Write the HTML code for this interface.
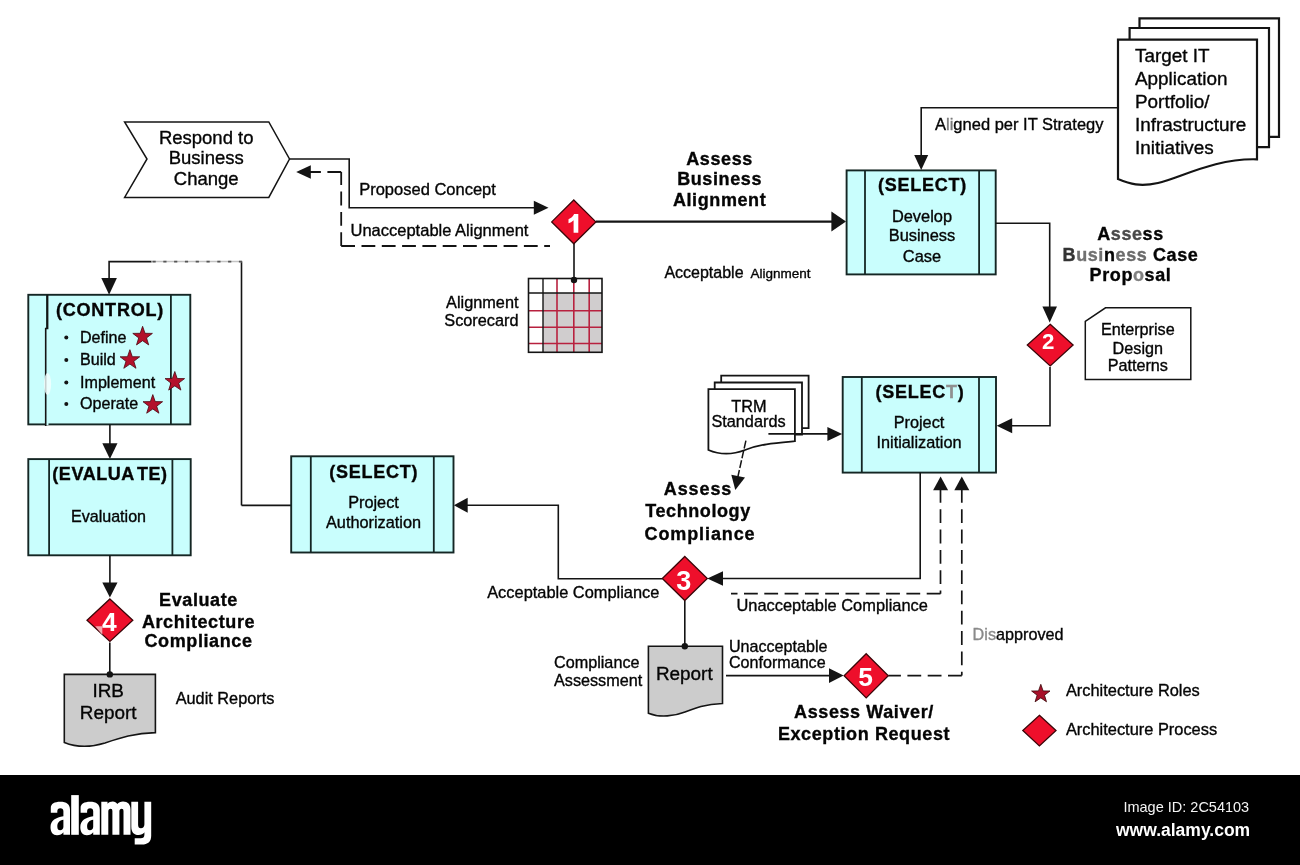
<!DOCTYPE html><html><head><meta charset="utf-8"><style>html,body{margin:0;padding:0;background:#fff;width:1300px;height:865px;overflow:hidden}svg{display:block;will-change:transform}text{font-family:"Liberation Sans",sans-serif}</style></head><body>
<svg width="1300" height="865" viewBox="0 0 1300 865">
<polygon points="124.6,122 268.8,122 289.5,159 268.8,197.4 124.6,197.4 147,159" fill="#fff" stroke="#141414" stroke-width="1.5"/>
<text x="206.2" y="144.2" font-size="18.5" text-anchor="middle" fill="#050505" stroke="#050505" stroke-width="0.35">Respond to</text>
<text x="206.2" y="163.8" font-size="18.5" text-anchor="middle" fill="#050505" stroke="#050505" stroke-width="0.35">Business</text>
<text x="206.2" y="185" font-size="18.5" text-anchor="middle" fill="#050505" stroke="#050505" stroke-width="0.35">Change</text>
<path d="M289.5,159 L349.2,159 L349.2,207.7 L536,207.7" fill="none" stroke="#141414" stroke-width="1.6"/>
<polygon points="548.5,207.7 533.8,200.7 533.8,214.7" fill="#141414"/>
<text x="359.2" y="194.6" font-size="16.5" text-anchor="start" fill="#050505" stroke="#050505" stroke-width="0.35">Proposed Concept</text>
<path d="M341.2,246 L550,246" fill="none" stroke="#141414" stroke-width="1.8" stroke-dasharray="13.8 6.5"/>
<path d="M341.2,246 L341.2,172" fill="none" stroke="#141414" stroke-width="1.8" stroke-dasharray="13.8 6.5"/>
<path d="M341.2,172 L309,172" fill="none" stroke="#141414" stroke-width="1.8" stroke-dasharray="13.8 6.5"/>
<polygon points="296.2,172.0 310.8,165.2 310.8,178.8" fill="#141414"/>
<text x="350.5" y="236.2" font-size="16.5" text-anchor="start" fill="#050505" stroke="#050505" stroke-width="0.35">Unacceptable Alignment</text>
<path d="M596,221.6 L833,221.6" fill="none" stroke="#141414" stroke-width="2.2"/>
<polygon points="846.0,221.6 831.4,211.6 831.4,231.6" fill="#141414"/>
<path d="M574,243 L574,280" fill="none" stroke="#141414" stroke-width="1.6"/>
<rect x="543" y="293" width="59" height="59.30000000000001" fill="#d0cdce"/>
<line x1="557" y1="278.5" x2="557" y2="352.3" stroke="#b8213f" stroke-width="1.6"/>
<line x1="573.8" y1="278.5" x2="573.8" y2="352.3" stroke="#b8213f" stroke-width="1.6"/>
<line x1="589.2" y1="278.5" x2="589.2" y2="352.3" stroke="#b8213f" stroke-width="1.6"/>
<line x1="528.5" y1="310.8" x2="602" y2="310.8" stroke="#b8213f" stroke-width="1.6"/>
<line x1="528.5" y1="327.2" x2="602" y2="327.2" stroke="#b8213f" stroke-width="1.6"/>
<line x1="528.5" y1="343.5" x2="602" y2="343.5" stroke="#b8213f" stroke-width="1.6"/>
<line x1="528.5" y1="293" x2="602" y2="293" stroke="#141414" stroke-width="1.4"/>
<line x1="543" y1="278.5" x2="543" y2="352.3" stroke="#141414" stroke-width="1.4"/>
<rect x="528.5" y="278.5" width="73.5" height="73.80000000000001" fill="none" stroke="#141414" stroke-width="1.6"/>
<circle cx="574" cy="280" r="3.2" fill="#141414"/>
<polygon points="573.8,200.0 595.9,221.9 573.8,243.8 551.6999999999999,221.9" fill="#ee0f2b" stroke="#3a0508" stroke-width="1.3"/>
<path d="M574.0999999999999,214.0 L578.3,214.0 L578.3,232.70000000000002 L573.5999999999999,232.70000000000002 L573.5999999999999,220.3 C572.0,221.9 570.3,222.8 568.5,223.20000000000002 L568.5,219.20000000000002 C571.0,218.3 573.0,216.5 574.0999999999999,214.0 Z" fill="#fff"/>
<text x="518.5" y="307.7" font-size="16.3" text-anchor="end" fill="#050505" stroke="#050505" stroke-width="0.35">Alignment</text>
<text x="518.5" y="325.7" font-size="16.3" text-anchor="end" fill="#050505" stroke="#050505" stroke-width="0.35">Scorecard</text>
<text x="719.6" y="164.6" font-size="18" text-anchor="middle" fill="#050505" stroke="#050505" stroke-width="0.35" font-weight="bold" letter-spacing="0.6">Assess</text>
<text x="719.6" y="185.2" font-size="18" text-anchor="middle" fill="#050505" stroke="#050505" stroke-width="0.35" font-weight="bold" letter-spacing="0.6">Business</text>
<text x="719.6" y="206" font-size="18" text-anchor="middle" fill="#050505" stroke="#050505" stroke-width="0.35" font-weight="bold" letter-spacing="0.6">Alignment</text>
<text x="664.4" y="277.6" font-size="16" text-anchor="start" fill="#050505" stroke="#050505" stroke-width="0.35">Acceptable</text>
<text x="750.4" y="277.6" font-size="13.5" text-anchor="start" fill="#050505" stroke="#050505" stroke-width="0.35">Alignment</text>
<rect x="846.6" y="170.4" width="149.10000000000002" height="103.99999999999997" fill="#c9fefd" stroke="#142624" stroke-width="1.9"/>
<line x1="865" y1="170.4" x2="865" y2="274.4" stroke="#142624" stroke-width="1.8"/>
<line x1="979.1" y1="170.4" x2="979.1" y2="274.4" stroke="#142624" stroke-width="1.8"/>
<text x="922.5" y="191.2" font-size="18" text-anchor="middle" fill="#050505" stroke="#050505" stroke-width="0.35" font-weight="bold" letter-spacing="0.75">(SELECT)</text>
<text x="922" y="221.7" font-size="16.4" text-anchor="middle" fill="#050505" stroke="#050505" stroke-width="0.35">Develop</text>
<text x="922" y="241" font-size="16.4" text-anchor="middle" fill="#050505" stroke="#050505" stroke-width="0.35">Business</text>
<text x="922" y="262" font-size="16.4" text-anchor="middle" fill="#050505" stroke="#050505" stroke-width="0.35">Case</text>
<path d="M1118,107.7 L921.2,107.7 L921.2,157" fill="none" stroke="#141414" stroke-width="1.6"/>
<polygon points="921.2,170.0 914.2,155.0 928.2,155.0" fill="#141414"/>
<text x="935" y="129.8" font-size="16.5" text-anchor="start" fill="#050505" stroke="#050505" stroke-width="0.35">A<tspan fill="#7a7a7a" stroke="#7a7a7a">li</tspan>gned per IT Strategy</text>
<path d="M1139.5,18.3 L1279,18.3 L1279,136.9 L1139.5,136.9 Z" fill="#fff" stroke="#141414" stroke-width="2.2"/>
<path d="M1129.6,28 L1269,28 L1269,147.2 L1129.6,147.2 Z" fill="#fff" stroke="#141414" stroke-width="2.2"/>
<path d="M1118,39.6 L1257,39.6 L1257,159.3 C1215,158 1180,178 1158,183 C1140,187 1130,184 1118,179 Z" fill="#fff" stroke="#141414" stroke-width="2.2"/>
<text x="1135" y="62" font-size="18.9" text-anchor="start" fill="#050505" stroke="#050505" stroke-width="0.35">Target IT</text>
<text x="1135" y="84.6" font-size="18.9" text-anchor="start" fill="#050505" stroke="#050505" stroke-width="0.35">Application</text>
<text x="1135" y="107.7" font-size="18.9" text-anchor="start" fill="#050505" stroke="#050505" stroke-width="0.35">Portfolio/</text>
<text x="1135" y="130.7" font-size="18.9" text-anchor="start" fill="#050505" stroke="#050505" stroke-width="0.35">Infrastructure</text>
<text x="1135" y="153.8" font-size="18.9" text-anchor="start" fill="#050505" stroke="#050505" stroke-width="0.35">Initiatives</text>
<path d="M995.7,223.3 L1049.7,223.3 L1049.7,308" fill="none" stroke="#141414" stroke-width="1.6"/>
<polygon points="1049.7,322.4 1042.4,306.4 1057.0,306.4" fill="#141414"/>
<polygon points="1050.2,324.3 1073.1000000000001,345.1 1050.2,365.90000000000003 1027.3,345.1" fill="#ee0f2b" stroke="#3a0508" stroke-width="1.3"/>
<text x="1042.1" y="348.6" font-size="22.3" font-weight="bold" fill="#fff">2</text>
<text x="1130.5" y="240.2" font-size="18" text-anchor="middle" fill="#050505" stroke="#050505" stroke-width="0.35" font-weight="bold" letter-spacing="0.6">A<tspan fill="#4a4a4a" stroke="#4a4a4a">sse</tspan>ss</text>
<text x="1130.5" y="260.6" font-size="18" text-anchor="middle" fill="#050505" stroke="#050505" stroke-width="0.35" font-weight="bold" letter-spacing="0.6"><tspan fill="#333" stroke="#333">B</tspan><tspan fill="#707070" stroke="#707070">usi</tspan>n<tspan fill="#6a6a6a" stroke="#6a6a6a">ess</tspan> Case</text>
<text x="1130.5" y="280.8" font-size="18" text-anchor="middle" fill="#050505" stroke="#050505" stroke-width="0.35" font-weight="bold" letter-spacing="0.6">Prop<tspan fill="#808080" stroke="#808080">o</tspan>sal</text>
<path d="M1085.3,321.3 L1105.5,307.8 L1190.8,307.8 L1190.8,379.6 L1085.3,379.6 Z" fill="#fff" stroke="#141414" stroke-width="1.5"/>
<text x="1137.8" y="335.3" font-size="16.2" text-anchor="middle" fill="#050505" stroke="#050505" stroke-width="0.35">Enterprise</text>
<text x="1137.8" y="353.6" font-size="16.2" text-anchor="middle" fill="#050505" stroke="#050505" stroke-width="0.35">Design</text>
<text x="1137.8" y="371.3" font-size="16.2" text-anchor="middle" fill="#050505" stroke="#050505" stroke-width="0.35">Patterns</text>
<path d="M1050,367 L1050,425.7 L1010,425.7" fill="none" stroke="#141414" stroke-width="1.6"/>
<polygon points="996.7,425.7 1012.2,418.2 1012.2,433.2" fill="#141414"/>
<rect x="842.7" y="377" width="153.29999999999995" height="95.60000000000002" fill="#c9fefd" stroke="#142624" stroke-width="1.9"/>
<line x1="861.8" y1="377" x2="861.8" y2="472.6" stroke="#142624" stroke-width="1.8"/>
<line x1="979" y1="377" x2="979" y2="472.6" stroke="#142624" stroke-width="1.8"/>
<text x="920" y="398.3" font-size="18" text-anchor="middle" fill="#050505" stroke="#050505" stroke-width="0.35" font-weight="bold" letter-spacing="0.75">(SELEC<tspan fill="#909090" stroke="#909090">T</tspan>)</text>
<text x="919" y="428.3" font-size="16.3" text-anchor="middle" fill="#050505" stroke="#050505" stroke-width="0.35">Project</text>
<text x="919" y="447.8" font-size="16.3" text-anchor="middle" fill="#050505" stroke="#050505" stroke-width="0.35">Initialization</text>
<path d="M721.2,375.6 L808.6,375.6 L808.6,428.2 L721.2,428.2 Z" fill="#fff" stroke="#141414" stroke-width="1.8"/>
<path d="M714.7,382.5 L802,382.5 L802,434.5 L714.7,434.5 Z" fill="#fff" stroke="#141414" stroke-width="1.8"/>
<path d="M708.4,389.2 L794.9,389.2 L794.9,441.2 C775,443 760,444 745,450 C732,455 720,455 708.4,450 Z" fill="#fff" stroke="#141414" stroke-width="1.8"/>
<text x="749" y="411.8" font-size="16.3" text-anchor="middle" fill="#050505" stroke="#050505" stroke-width="0.35">TRM</text>
<text x="748.5" y="427.1" font-size="16.3" text-anchor="middle" fill="#050505" stroke="#050505" stroke-width="0.35">Standards</text>
<path d="M768.4,433.9 L829,433.9" fill="none" stroke="#141414" stroke-width="1.6"/>
<polygon points="842.2,433.9 827.4,426.9 827.4,440.9" fill="#141414"/>
<path d="M745.9,440.7 L737.6,478" fill="none" stroke="#141414" stroke-width="1.5" stroke-dasharray="8 2"/>
<polygon points="735.3,489.9 731.3,474.8 745.0,477.6" fill="#141414"/>
<text x="698" y="495.4" font-size="18" text-anchor="middle" fill="#050505" stroke="#050505" stroke-width="0.35" font-weight="bold" letter-spacing="0.9">Assess</text>
<text x="698" y="517.4" font-size="18" text-anchor="middle" fill="#050505" stroke="#050505" stroke-width="0.35" font-weight="bold" letter-spacing="0.6">Technology</text>
<text x="700" y="540.4" font-size="18" text-anchor="middle" fill="#050505" stroke="#050505" stroke-width="0.35" font-weight="bold" letter-spacing="0.9">Compliance</text>
<path d="M920.2,472.6 L920.2,578.5 L721,578.5" fill="none" stroke="#141414" stroke-width="1.6"/>
<polygon points="707.3,578.5 723.0,571.2 723.0,585.8" fill="#141414"/>
<path d="M940.5,593.7 L731,593.7" fill="none" stroke="#141414" stroke-width="1.7" stroke-dasharray="13.8 6.5"/>
<path d="M940.5,489 L940.5,593.7" fill="none" stroke="#141414" stroke-width="1.7" stroke-dasharray="13.8 6.5"/>
<polygon points="940.6,476.5 933.1,490.3 948.1,490.3" fill="#141414"/>
<path d="M961.8,675.6 L888.4,675.6" fill="none" stroke="#141414" stroke-width="1.8" stroke-dasharray="13.8 6.5"/>
<path d="M961.8,489 L961.8,675.6" fill="none" stroke="#141414" stroke-width="1.7" stroke-dasharray="13.8 6.5"/>
<polygon points="961.8,476.5 954.3,490.3 969.3,490.3" fill="#141414"/>
<text x="736.5" y="610.7" font-size="16.4" text-anchor="start" fill="#050505" stroke="#050505" stroke-width="0.35">Unacceptable Compliance</text>
<path d="M662.4,578.7 L558.3,578.7 L558.3,505.3 L466,505.3" fill="none" stroke="#141414" stroke-width="1.6"/>
<polygon points="453.9,505.3 467.7,497.8 467.7,512.8" fill="#141414"/>
<text x="487.2" y="597.7" font-size="16.4" text-anchor="start" fill="#050505" stroke="#050505" stroke-width="0.35">Acceptable Compliance</text>
<path d="M684.8,600.7 L684.8,646.3" fill="none" stroke="#141414" stroke-width="1.6"/>
<polygon points="684.8,556.5 707.3,578.5 684.8,600.5 662.3,578.5" fill="#ee0f2b" stroke="#3a0508" stroke-width="1.3"/>
<text x="676.3" y="590.3" font-size="27" font-weight="bold" fill="#fff">3</text>
<path d="M648.4,646.3 L722.5,646.3 L722.5,703.5 C705,704 695,708 685,712 C675,716 660,718 648.4,713.2 Z" fill="#cccccc" stroke="#141414" stroke-width="1.6"/>
<circle cx="684.8" cy="646.3" r="3.2" fill="#141414"/>
<text x="684.3" y="680.3" font-size="18.9" text-anchor="middle" fill="#050505" stroke="#050505" stroke-width="0.35">Report</text>
<text x="554" y="668.1" font-size="16.2" text-anchor="start" fill="#050505" stroke="#050505" stroke-width="0.35">Compliance</text>
<text x="554" y="686.2" font-size="16.2" text-anchor="start" fill="#050505" stroke="#050505" stroke-width="0.35">Assessment</text>
<path d="M726,675.6 L831,675.6" fill="none" stroke="#141414" stroke-width="1.6"/>
<polygon points="843.6,675.6 829.0,668.3 829.0,682.9" fill="#141414"/>
<text x="729" y="652" font-size="16.1" text-anchor="start" fill="#050505" stroke="#050505" stroke-width="0.35">Unacceptable</text>
<text x="729" y="668" font-size="16.1" text-anchor="start" fill="#050505" stroke="#050505" stroke-width="0.35">Conformance</text>
<polygon points="866.2,653.6999999999999 888.3000000000001,675.8 866.2,697.9 844.1,675.8" fill="#ee0f2b" stroke="#3a0508" stroke-width="1.3"/>
<text x="858.2" y="685.8" font-size="26.4" font-weight="bold" fill="#fff">5</text>
<text x="864" y="718.4" font-size="18" text-anchor="middle" fill="#050505" stroke="#050505" stroke-width="0.35" font-weight="bold" letter-spacing="0.6">Assess Waiver/</text>
<text x="864" y="739.6" font-size="18" text-anchor="middle" fill="#050505" stroke="#050505" stroke-width="0.35" font-weight="bold" letter-spacing="0.6">Exception Request</text>
<text x="972.6" y="640.2" font-size="16.2" text-anchor="start" fill="#050505" stroke="#050505" stroke-width="0.35"><tspan fill="#8a8a8a" stroke="#8a8a8a">Dis</tspan>approved</text>
<polygon points="1040.8,684.3 1043.1,690.9 1050.0,691.0 1044.5,695.2 1046.5,701.8 1040.8,697.9 1035.1,701.8 1037.1,695.2 1031.6,691.0 1038.5,690.9" fill="#a8112a" stroke="#3a0508" stroke-width="0.8"/>
<text x="1065.9" y="695.5" font-size="16.4" text-anchor="start" fill="#050505" stroke="#050505" stroke-width="0.35">Architecture Roles</text>
<polygon points="1039.4,715.3000000000001 1056.0,730.6 1039.4,745.9 1022.8000000000001,730.6" fill="#ee0f2b" stroke="#3a0508" stroke-width="1.3"/>
<text x="1065.9" y="734.9" font-size="16.4" text-anchor="start" fill="#050505" stroke="#050505" stroke-width="0.35">Architecture Process</text>
<path d="M241.5,505.4 L241.5,261.6" fill="none" stroke="#141414" stroke-width="1.6"/>
<path d="M151.6,261.6 L109.1,261.6 L109.1,280" fill="none" stroke="#141414" stroke-width="1.6"/>
<path d="M151.6,261.6 L242.3,261.6" fill="none" stroke="#c4c4c4" stroke-width="1.5"/>
<path d="M152.5,261.6 L242.3,261.6" fill="none" stroke="#555" stroke-width="1.6" stroke-dasharray="3.2 7.6"/>
<polygon points="109.1,294.8 101.3,278.1 116.9,278.1" fill="#141414"/>
<rect x="28.3" y="294.8" width="162.0" height="129.59999999999997" fill="#c9fefd" stroke="#142624" stroke-width="1.9"/>
<line x1="47" y1="294.8" x2="47" y2="424.4" stroke="#142624" stroke-width="1.8"/>
<line x1="170.9" y1="294.8" x2="170.9" y2="424.4" stroke="#142624" stroke-width="1.8"/>
<rect x="46" y="328" width="2.5" height="97" fill="#c9fefd"/>
<path d="M47.6,295 L47.6,328.5 L45.7,328.5 L45.7,426" fill="none" stroke="#141414" stroke-width="1.6"/>
<ellipse cx="47.5" cy="384" rx="3.6" ry="11" fill="#f4fffe" opacity="0.8"/>
<text x="110" y="316.2" font-size="18" text-anchor="middle" fill="#050505" stroke="#050505" stroke-width="0.35" font-weight="bold" letter-spacing="0.8">(CONTROL)</text>
<circle cx="66.3" cy="337.40000000000003" r="2.0" fill="#141414"/>
<text x="80" y="342.6" font-size="16.1" text-anchor="start" fill="#050505" stroke="#050505" stroke-width="0.35">Define</text>
<polygon points="142.6,326.3 145.0,333.3 152.4,333.4 146.5,337.9 148.7,344.9 142.6,340.7 136.5,344.9 138.7,337.9 132.8,333.4 140.2,333.3" fill="#b3112b" stroke="#4a0610" stroke-width="0.8"/>
<circle cx="66.3" cy="359.90000000000003" r="2.0" fill="#141414"/>
<text x="80" y="365.1" font-size="16.1" text-anchor="start" fill="#050505" stroke="#050505" stroke-width="0.35">Build</text>
<polygon points="129.9,349.7 132.3,356.7 139.7,356.8 133.8,361.3 136.0,368.3 129.9,364.1 123.8,368.3 126.0,361.3 120.1,356.8 127.5,356.7" fill="#b3112b" stroke="#4a0610" stroke-width="0.8"/>
<circle cx="66.3" cy="382.6" r="2.0" fill="#141414"/>
<text x="80" y="387.8" font-size="16.1" text-anchor="start" fill="#050505" stroke="#050505" stroke-width="0.35">Implement</text>
<polygon points="174.8,371.5 177.2,378.5 184.6,378.6 178.7,383.1 180.9,390.1 174.8,385.9 168.7,390.1 170.9,383.1 165.0,378.6 172.4,378.5" fill="#b3112b" stroke="#4a0610" stroke-width="0.8"/>
<circle cx="66.3" cy="404.0" r="2.0" fill="#141414"/>
<text x="80" y="409.2" font-size="16.1" text-anchor="start" fill="#050505" stroke="#050505" stroke-width="0.35">Operate</text>
<polygon points="152.8,394.6 155.2,401.6 162.6,401.7 156.7,406.2 158.9,413.2 152.8,409.0 146.7,413.2 148.9,406.2 143.0,401.7 150.4,401.6" fill="#b3112b" stroke="#4a0610" stroke-width="0.8"/>
<path d="M109.9,424.4 L109.9,445" fill="none" stroke="#141414" stroke-width="1.6"/>
<polygon points="109.9,459.1 102.3,443.3 117.5,443.3" fill="#141414"/>
<rect x="28.3" y="459.1" width="162.39999999999998" height="96.19999999999993" fill="#c9fefd" stroke="#142624" stroke-width="1.9"/>
<line x1="49.1" y1="459.1" x2="49.1" y2="555.3" stroke="#142624" stroke-width="1.8"/>
<line x1="172.4" y1="459.1" x2="172.4" y2="555.3" stroke="#142624" stroke-width="1.8"/>
<text x="110" y="480.4" font-size="18" text-anchor="middle" fill="#050505" stroke="#050505" stroke-width="0.35" font-weight="bold" letter-spacing="0.55">(EVALUA<tspan dx="3.5">TE)</tspan></text>
<text x="108.5" y="522.4" font-size="16.1" text-anchor="middle" fill="#050505" stroke="#050505" stroke-width="0.35">Evaluation</text>
<path d="M109.9,555.3 L109.9,584" fill="none" stroke="#141414" stroke-width="1.6"/>
<polygon points="109.9,597.5 102.3,582.5 117.5,582.5" fill="#141414"/>
<path d="M109.8,642.5 L109.8,673.3" fill="none" stroke="#141414" stroke-width="1.6"/>
<polygon points="109.9,599.0 132.8,620.2 109.9,641.4000000000001 87.0,620.2" fill="#ee0f2b" stroke="#3a0508" stroke-width="1.3"/>
<text x="101.9" y="631.1" font-size="26.4" font-weight="bold" fill="#fff">4</text>
<polygon points="95.2,626.3 102.3,626.3 102.3,634.8" fill="#f2a6ae"/>
<path d="M64.3,674.4 L155.4,674.4 L155.4,732.6 C135,733 120,738 105,743 C92,747 78,748 64.3,742.5 Z" fill="#cccccc" stroke="#141414" stroke-width="1.6"/>
<circle cx="109.8" cy="674.4" r="3.2" fill="#141414"/>
<text x="108.2" y="697" font-size="18.9" text-anchor="middle" fill="#050505" stroke="#050505" stroke-width="0.35">IRB</text>
<text x="108.2" y="719.4" font-size="18.9" text-anchor="middle" fill="#050505" stroke="#050505" stroke-width="0.35">Report</text>
<text x="198.5" y="606.2" font-size="18" text-anchor="middle" fill="#050505" stroke="#050505" stroke-width="0.35" font-weight="bold" letter-spacing="0.6">Evaluate</text>
<text x="198.5" y="627.6" font-size="18" text-anchor="middle" fill="#050505" stroke="#050505" stroke-width="0.35" font-weight="bold" letter-spacing="0.6">Architecture</text>
<text x="198.5" y="647.3" font-size="18" text-anchor="middle" fill="#050505" stroke="#050505" stroke-width="0.35" font-weight="bold" letter-spacing="0.6">Compliance</text>
<text x="175.7" y="704.4" font-size="16.3" text-anchor="start" fill="#050505" stroke="#050505" stroke-width="0.35">Audit Reports</text>
<path d="M241.5,505.4 L291.2,505.4" fill="none" stroke="#141414" stroke-width="1.6"/>
<rect x="291.2" y="456.3" width="162.3" height="96.19999999999999" fill="#c9fefd" stroke="#142624" stroke-width="1.9"/>
<line x1="310.8" y1="456.3" x2="310.8" y2="552.5" stroke="#142624" stroke-width="1.8"/>
<line x1="433.8" y1="456.3" x2="433.8" y2="552.5" stroke="#142624" stroke-width="1.8"/>
<text x="373.7" y="477.5" font-size="18" text-anchor="middle" fill="#050505" stroke="#050505" stroke-width="0.35" font-weight="bold" letter-spacing="0.75">(SELECT)</text>
<text x="373.5" y="508.3" font-size="16.3" text-anchor="middle" fill="#050505" stroke="#050505" stroke-width="0.35">Project</text>
<text x="373.5" y="527.5" font-size="16.3" text-anchor="middle" fill="#050505" stroke="#050505" stroke-width="0.35">Authorization</text>
<rect x="0" y="775" width="1300" height="90" fill="#000"/>
<g fill="#fff" fill-rule="evenodd">
<path transform="translate(50.5,801.8)" d="M0.3,11 L0.3,6 C0.3,2 4,0 9.7,0 C16,0 19.5,2.5 19.5,8 L19.5,33 L12.9,33 L12.9,30.5 C11.5,32.5 9.5,33.5 6.5,33.5 C2.5,33.5 0,30.5 0,25.5 C0,18.5 5.5,15.8 12.9,14.5 L12.9,9.5 C12.9,7.5 11.8,6.5 9.8,6.5 C7.8,6.5 6.8,7.5 6.8,9.5 L6.8,11 Z M12.9,18 C9,18.5 6.8,21 6.8,24.5 C6.8,27.5 8,28.5 9.6,28.5 C11.5,28.5 12.9,27 12.9,25 Z"/>
<rect x="71.2" y="795.1" width="7.6" height="39.7"/>
<path transform="translate(80.3,801.8)" d="M0.3,11 L0.3,6 C0.3,2 4,0 9.7,0 C16,0 19.5,2.5 19.5,8 L19.5,33 L12.9,33 L12.9,30.5 C11.5,32.5 9.5,33.5 6.5,33.5 C2.5,33.5 0,30.5 0,25.5 C0,18.5 5.5,15.8 12.9,14.5 L12.9,9.5 C12.9,7.5 11.8,6.5 9.8,6.5 C7.8,6.5 6.8,7.5 6.8,9.5 L6.8,11 Z M12.9,18 C9,18.5 6.8,21 6.8,24.5 C6.8,27.5 8,28.5 9.6,28.5 C11.5,28.5 12.9,27 12.9,25 Z"/>
<path transform="translate(101.3,801.8)" d="M0,33 L0,0 L6.2,0 L6.2,2 C7.5,0.5 9.5,-0.3 11.5,-0.3 C13.5,-0.3 15,0.6 16,2.2 C17.3,0.6 19.3,-0.3 21.7,-0.3 C26.5,-0.3 29.2,2.5 29.2,7.5 L29.2,33 L22.2,33 L22.2,9.5 C22.2,7.8 21.6,7 20.4,7 C19,7 18.1,8 18.1,9.8 L18.1,33 L11.1,33 L11.1,9.5 C11.1,7.8 10.5,7 9.3,7 C7.9,7 7,8 7,9.8 L7,33 Z"/>
<path transform="translate(131.3,801.8)" d="M0,0 L6.8,0 L6.8,23 C6.8,25.5 7.8,26.5 9.6,26.5 C11.6,26.5 13.1,25.2 13.1,22.5 L13.1,0 L19.9,0 L19.9,34 C19.9,40 16.5,42.8 10.5,42.8 L3.4,42.8 L3.4,36.5 L9.5,36.5 C11.8,36.5 13.1,35.5 13.1,33 L13.1,30.5 C11.8,32.2 9.7,33.3 7.3,33.3 C2.5,33.3 0,30.5 0,25 Z"/>
</g>
<text x="1249.2" y="811.5" font-size="14.5" text-anchor="end" fill="#f4f4f4">Image ID: 2C54103</text>
<text x="1250.2" y="835.5" font-size="17.5" text-anchor="end" fill="#fff" font-weight="bold">www.alamy.com</text>
</svg></body></html>
